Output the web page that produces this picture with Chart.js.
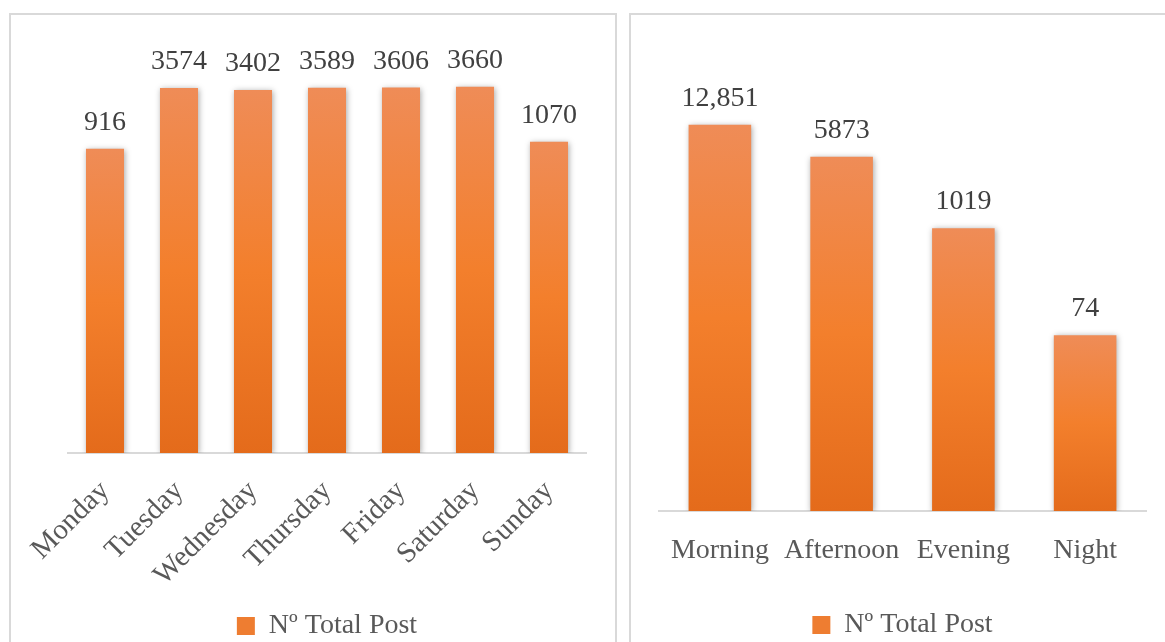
<!DOCTYPE html>
<html>
<head>
<meta charset="utf-8">
<script src="https://cdn.jsdelivr.net/npm/chart.js@4.4.1/dist/chart.umd.min.js"></script>
<style>
  html, body { margin:0; padding:0; width:1165px; height:642px; overflow:hidden; background:#fff; }
  .panel { position:absolute; border:2px solid #D9D9D9; box-sizing:border-box; }
  #p1 { left:9px; top:13px; width:608px; height:700px; }
  #p2 { left:629px; top:13px; width:600px; height:700px; }
  .cw { position:absolute; top:0; }
  #w1 { left:0; width:620px; height:650px; }
  #w2 { left:620px; width:545px; height:649px; }
</style>
</head>
<body>
<div class="panel" id="p1"></div>
<div class="panel" id="p2"></div>
<div class="cw" id="w1"><canvas id="c1"></canvas></div>
<div class="cw" id="w2"><canvas id="c2"></canvas></div>
<script>
// ---- data ----
const days = ['Monday', 'Tuesday', 'Wednesday', 'Thursday', 'Friday', 'Saturday', 'Sunday'];
const dayPosts = [916, 3574, 3402, 3589, 3606, 3660, 1070];
const dayValueLabels = ['916', '3574', '3402', '3589', '3606', '3660', '1070'];

const periods = ['Morning', 'Afternoon', 'Evening', 'Night'];
const periodPosts = [12851, 5873, 1019, 74];
const periodValueLabels = ['12,851', '5873', '1019', '74'];

const seriesName = 'Nº Total Post';

// ---- styling ----
const FONT = "'Liberation Serif', 'DejaVu Serif', serif";
const TEXT = '#595959';

function barGradient(c) {
  const chart = c.chart;
  const area = chart.chartArea;
  if (!area) return '#EE7D31';
  const top = chart.scales.y.getPixelForValue(c.raw);
  const g = chart.ctx.createLinearGradient(0, top, 0, area.bottom);
  g.addColorStop(0, '#EF8C57');
  g.addColorStop(0.5, '#F37F2C');
  g.addColorStop(1, '#E46B1B');
  return g;
}

const shadowPlugin = {
  id: 'barShadow',
  beforeDatasetsDraw(chart) {
    const ctx = chart.ctx;
    ctx.save();
    ctx.shadowColor = 'rgba(0,0,0,0.35)';
    ctx.shadowBlur = 6;
    ctx.shadowOffsetX = 1;
    ctx.shadowOffsetY = 1;
  },
  afterDatasetsDraw(chart) {
    chart.ctx.restore();
  }
};

const valueLabelPlugin = {
  id: 'valueLabels',
  afterDatasetsDraw(chart, args, opts) {
    const ctx = chart.ctx;
    const meta = chart.getDatasetMeta(0);
    ctx.save();
    ctx.font = '28px ' + FONT;
    ctx.fillStyle = '#404040';
    ctx.textAlign = 'center';
    ctx.textBaseline = 'alphabetic';
    meta.data.forEach((bar, i) => {
      ctx.fillText(opts.labels[i], bar.x, bar.y - 19);
    });
    ctx.restore();
  }
};

function makeChart(id, labels, values, valueLabels, yMax, pad, xHeight, rotation, tickPad, tickSize) {
  return new Chart(document.getElementById(id), {
    type: 'bar',
    data: {
      labels: labels,
      datasets: [{
        label: seriesName,
        data: values,
        backgroundColor: barGradient,
        borderWidth: 0,
        categoryPercentage: 1,
        barPercentage: 0.514
      }]
    },
    options: {
      responsive: true,
      maintainAspectRatio: false,
      animation: false,
      layout: { padding: pad },
      scales: {
        y: {
          type: 'logarithmic',
          min: 1,
          max: yMax,
          display: false
        },
        x: {
          grid: { display: false, drawTicks: false },
          border: { display: true, color: '#D9D9D9', width: 2 },
          ticks: {
            color: TEXT,
            font: { family: FONT, size: tickSize },
            maxRotation: rotation,
            minRotation: rotation,
            padding: tickPad,
            autoSkip: false
          },
          afterFit(scale) { scale.height = xHeight; }
        }
      },
      plugins: {
        legend: {
          position: 'bottom',
          labels: {
            boxWidth: 18,
            boxHeight: 18,
            padding: 4,
            color: TEXT,
            font: { family: FONT, size: 28 },
            generateLabels(chart) {
              return [{ text: seriesName, fillStyle: '#EE7D31', strokeStyle: '#EE7D31', lineWidth: 0, datasetIndex: 0, fontColor: TEXT }];
            }
          }
        },
        tooltip: { enabled: false },
        valueLabels: { labels: valueLabels }
      }
    },
    plugins: [shadowPlugin, valueLabelPlugin]
  });
}

makeChart('c1', days, dayPosts, dayValueLabels, 10000,
  { left: 68, right: 34, top: 42, bottom: 0 }, 155, 45, 21, 29);
makeChart('c2', periods, periodPosts, periodValueLabels, 100000,
  { left: 39, right: 19, top: 41, bottom: 0 }, 96, 0, 23, 28);
</script>
</body>
</html>
